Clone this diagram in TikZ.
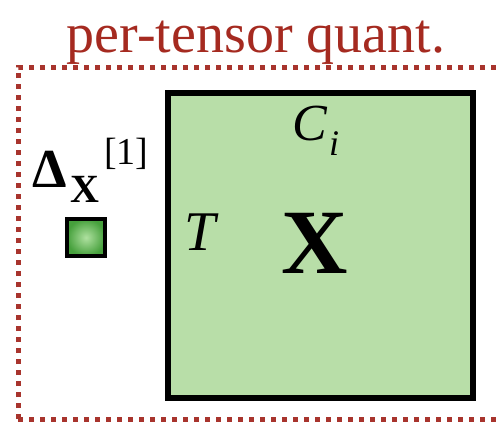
\documentclass[tikz,border=0pt]{standalone}
\usepackage{fontspec}
\setmainfont{Liberation Serif}
\begin{document}
\begin{tikzpicture}[x=1pt,y=-1pt,
  lbl/.style={inner sep=0pt, outer sep=0pt},
  frame/.style={draw=framered, line width=5pt, dash pattern=on 5pt off 6pt},
  bigbox/.style={draw=black, line width=6pt, fill=boxgreen},
]
\definecolor{framered}{RGB}{168,52,45}
\definecolor{titlered}{RGB}{165,42,32}
\definecolor{boxgreen}{RGB}{184,222,168}
\useasboundingbox (0,0) rectangle (496,421);
\fill[white] (0,0) rectangle (496,421);
% title
\node[lbl, anchor=base, text=titlered] (title) at (256,52) {\fontsize{56}{60}\selectfont per-tensor quant.};
% dotted frame
\draw[frame] (18,419) -- (18,67) -- (530,67);
\draw[frame] (18,419) -- (530,419);
% main tensor box
\node[bigbox, minimum width=305pt, minimum height=305pt, inner sep=0pt, anchor=north west] (X) at (165,90) {};
\node[lbl, anchor=base west] (C) at (292,140) {\fontsize{52}{56}\selectfont\itshape C};
\node[lbl, anchor=base west] (i) at (329,155) {\fontsize{36}{40}\selectfont\itshape i};
\node[lbl, anchor=base west] (T) at (184,250) {\fontsize{56}{60}\selectfont\itshape T};
\node[lbl, anchor=base] (Xl) at (315,273) {\fontsize{92}{96}\selectfont\bfseries X};
% scale factor
\node[lbl, anchor=base west] (D) at (32,187) {\fontsize{55}{60}\selectfont\bfseries Δ};
\node[lbl, anchor=base west] (Dx) at (70,202) {\fontsize{40}{44}\selectfont\bfseries X};
\node[lbl, anchor=base west] (Ds) at (104,164) {\fontsize{38}{42}\selectfont [1]};
\shade[inner color={rgb,255:red,175;green,225;blue,160}, outer color={rgb,255:red,70;green,160;blue,60}] (67,219) rectangle (105,256);
\draw[line width=4pt] (67,219) rectangle (105,256);
\end{tikzpicture}
\end{document}
